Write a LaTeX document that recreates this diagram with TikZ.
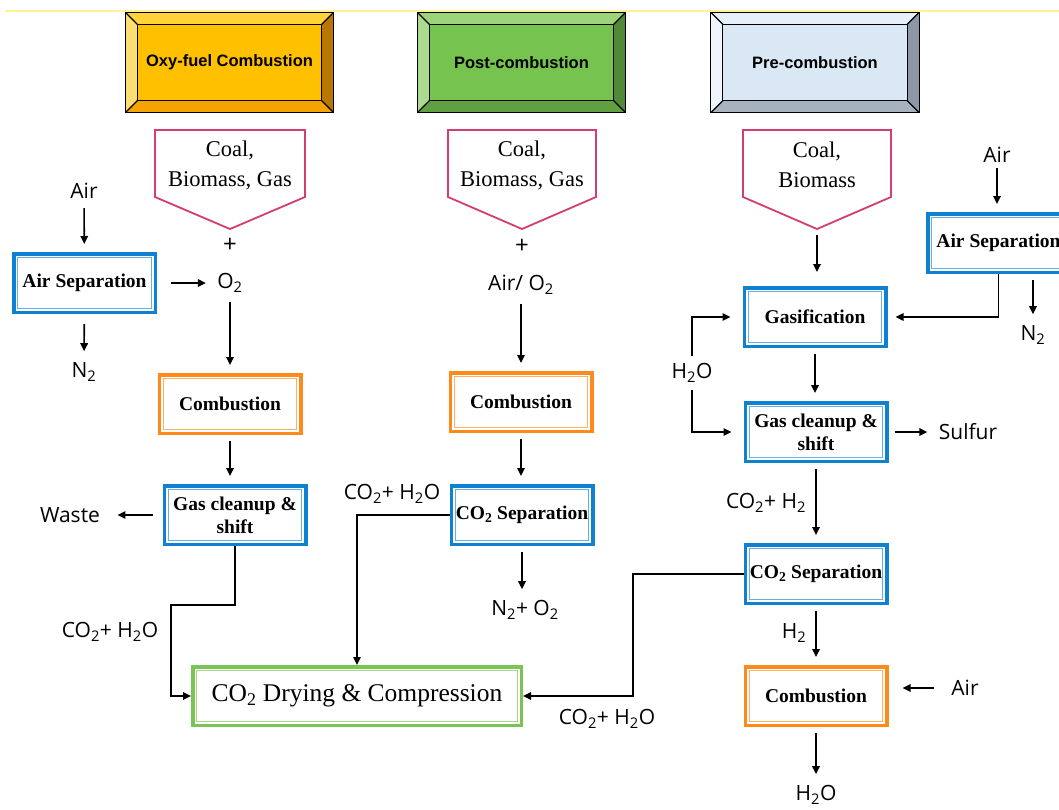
\documentclass[tikz,border=0pt]{standalone}
\usepackage{fontspec}
\setmainfont{Liberation Serif}
\newfontfamily\headfont{Liberation Sans}
\newfontfamily\lblfont{Open Sans}
\usetikzlibrary{arrows.meta, calc}

\definecolor{boxblue}{RGB}{16,128,208}
\definecolor{boxbluein}{RGB}{100,175,232}
\definecolor{boxorange}{RGB}{255,138,28}
\definecolor{boxorangein}{RGB}{255,178,100}
\definecolor{boxgreen}{RGB}{122,196,84}
\definecolor{boxgreenin}{RGB}{165,216,135}
\definecolor{fpink}{RGB}{210,62,112}
\definecolor{topline}{RGB}{255,243,150}
% header colours: face, top, left, right, bottom
\definecolor{oxyface}{RGB}{255,192,0}
\definecolor{oxytop}{RGB}{255,210,55}
\definecolor{oxyleft}{RGB}{255,222,115}
\definecolor{oxyright}{RGB}{185,118,0}
\definecolor{oxybot}{RGB}{245,163,0}
\definecolor{postface}{RGB}{118,195,80}
\definecolor{posttop}{RGB}{156,212,122}
\definecolor{postleft}{RGB}{172,218,142}
\definecolor{postright}{RGB}{80,138,55}
\definecolor{postbot}{RGB}{96,160,64}
\definecolor{preface}{RGB}{218,232,245}
\definecolor{pretop}{RGB}{230,240,250}
\definecolor{preleft}{RGB}{240,245,252}
\definecolor{preright}{RGB}{140,152,165}
\definecolor{prebot}{RGB}{166,178,190}

% bevelled title box: name, centre, text, face, top, left, right, bottom
\newcommand{\header}[8]{%
  \node[head, fill=#4] (#1) at (#2) {};
  \coordinate (#1-a) at ([shift={(12pt,-12pt)}]#1.north west);
  \coordinate (#1-b) at ([shift={(-12pt,-12pt)}]#1.north east);
  \coordinate (#1-c) at ([shift={(-12pt,12pt)}]#1.south east);
  \coordinate (#1-d) at ([shift={(12pt,12pt)}]#1.south west);
  \fill[#5] (#1.north west) -- (#1.north east) -- (#1-b) -- (#1-a) -- cycle;
  \fill[#6] (#1.north west) -- (#1-a) -- (#1-d) -- (#1.south west) -- cycle;
  \fill[#7] (#1.north east) -- (#1-b) -- (#1-c) -- (#1.south east) -- cycle;
  \fill[#8] (#1.south west) -- (#1-d) -- (#1-c) -- (#1.south east) -- cycle;
  \draw[bevel] (#1.north west) rectangle (#1.south east);
  \draw[bevel] (#1-a) rectangle (#1-c);
  \draw[bevel] (#1.north west) -- (#1-a) (#1.north east) -- (#1-b)
               (#1.south east) -- (#1-c) (#1.south west) -- (#1-d);
  \node[headtxt] (#1-t) at (#1) {#3};
}

\begin{document}
\begin{tikzpicture}[x=1pt, y=-1pt,
  head/.style={draw=black, line width=1.2pt, minimum width=207pt,
               minimum height=99pt, inner sep=0pt},
  bevel/.style={black, line width=1.1pt},
  headtxt/.style={font=\headfont\bfseries\fontsize{16.5}{19}\selectfont},
  feed/.style={font=\fontsize{22.5}{30}\selectfont, align=center},
  feedline/.style={draw=fpink, line width=1.8pt, fill=white, line join=miter},
  proc/.style={draw=#1, line width=3.5pt, fill=white, minimum width=141.5pt,
               minimum height=58.5pt, align=center, inner sep=2pt,
               font=\bfseries\fontsize{19.5}{23}\selectfont,
               path picture={\draw[#1in, line width=1.3pt]
                 ([shift={(4pt,-4pt)}]path picture bounding box.north west) rectangle
                 ([shift={(-4pt,4pt)}]path picture bounding box.south east);}},
  dry/.style={proc=boxgreen, minimum width=328.5pt,
              font=\fontsize{25.5}{28}\selectfont},
  lbl/.style={font=\lblfont\fontsize{21}{25}\selectfont},
  arr/.style={-{Triangle[length=8pt,width=7.5pt]}, line width=1.6pt,
              shorten <=6pt, shorten >=8pt},
  elb/.style={-{Triangle[length=8pt,width=7.5pt]}, line width=1.6pt}
]
\useasboundingbox (0,0) rectangle (1059,809);
\clip (0,0) rectangle (1059,809);
\fill[white] (0,0) rectangle (1059,809);
\draw[topline, line width=2pt] (5,11) -- (1059,11);

% ── titles ──────────────────────────────────────────────
\header{oxy}{229.5,62.5}{Oxy-fuel Combustion}{oxyface}{oxytop}{oxyleft}{oxyright}{oxybot}
\header{post}{521.5,62.5}{Post-combustion}{postface}{posttop}{postleft}{postright}{postbot}
\header{pre}{815,62.5}{Pre-combustion}{preface}{pretop}{preleft}{preright}{prebot}

% ── fuels ───────────────────────────────────────────────
\draw[feedline] (155,130) -- (305,130) -- (305,197) -- (230,229) -- (155,197) -- cycle;
\draw[feedline] (448,130) -- (596,130) -- (596,197) -- (522,229) -- (448,197) -- cycle;
\draw[feedline] (743,130) -- (891,130) -- (891,197) -- (817,229) -- (743,197) -- cycle;
\node[feed] (fuel1) at (230,165) {Coal,\\Biomass, Gas};
\node[feed] (fuel2) at (522,165) {Coal,\\Biomass, Gas};
\node[feed] (fuel3) at (817,165) {Coal,\\Biomass};
\coordinate (tip3) at (817,229);

% ── Oxy-fuel ────────────────────────────────────────────
\node[lbl] (air1) at (84,191) {Air};
\node[proc=boxblue] (asep1) at (84.5,283) {Air Separation};
\node[lbl] (n21) at (84,372) {N\textsubscript{2}};
\node[lbl, font=\lblfont\fontsize{24}{25}\selectfont] (plus1) at (230,245) {+};
\node[lbl] (o21) at (230,283) {O\textsubscript{2}};
\node[proc=boxorange] (comb1) at (230,404) {Combustion};
\node[proc=boxblue] (gcs1) at (235,515) {Gas cleanup \&\\shift};
\node[lbl] (waste) at (70,515) {Waste};
\node[lbl] (cw1) at (110,632) {CO\textsubscript{2}+ H\textsubscript{2}O};
\node[dry] (dry) at (357,696) {CO\textsubscript{2} Drying \& Compression};
\coordinate (bend1) at (171,605);

\draw[arr] (air1) -- (asep1);
\draw[arr, shorten <=10pt] (asep1) -- (n21);
\draw[arr, shorten <=14pt] (asep1) -- (o21);
\draw[arr] (o21) -- (comb1);
\draw[arr] (comb1) -- (comb1 |- gcs1.north);
\draw[arr, shorten <=10pt, shorten >=14pt] (gcs1) -- (waste);
\draw[elb] (gcs1.south) |- (bend1) |- (dry.west);

% ── Post-combustion ─────────────────────────────────────
\node[lbl, font=\lblfont\fontsize{24}{25}\selectfont] (plus2) at (522,246) {+};
\node[lbl] (airo2) at (521,285) {Air/ O\textsubscript{2}};
\node[proc=boxorange] (comb2) at (521,402) {Combustion};
\node[proc=boxblue] (csep2) at (522,515) {CO\textsubscript{2} Separation};
\node[lbl] (n2o2) at (525,610) {N\textsubscript{2}+ O\textsubscript{2}};
\node[lbl] (cw2) at (392,494) {CO\textsubscript{2}+ H\textsubscript{2}O};

\draw[arr] (airo2) -- (airo2 |- comb2.north);
\draw[arr] (comb2) -- (comb2 |- csep2.north);
\draw[arr] (csep2) -- (csep2 |- n2o2.north);
\draw[elb] (csep2.west) -| (dry.north);

% ── Pre-combustion ──────────────────────────────────────
\node[proc=boxblue] (gasif) at (815,317) {Gasification};
\node[lbl] (air3) at (997,155) {Air};
\node[proc=boxblue] (asep3) at (998.5,243) {Air Separation};
\node[lbl] (n23) at (1033,335) {N\textsubscript{2}};
\node[lbl] (h2o3) at (692,373) {H\textsubscript{2}O};
\node[proc=boxblue] (gcs3) at (816,432) {Gas cleanup \&\\shift};
\node[lbl] (sulfur) at (968,432) {Sulfur};
\node[lbl] (co2h2) at (766,503) {CO\textsubscript{2}+ H\textsubscript{2}};
\node[proc=boxblue] (csep3) at (816,574) {CO\textsubscript{2} Separation};
\node[lbl] (h23) at (794,633) {H\textsubscript{2}};
\node[proc=boxorange] (comb3) at (816,696) {Combustion};
\node[lbl] (air4) at (965,688) {Air};
\node[lbl] (h2o4) at (816,795) {H\textsubscript{2}O};
\node[lbl] (cw3) at (607,719) {CO\textsubscript{2}+ H\textsubscript{2}O};
\coordinate (bend3) at (633,574);

\draw[arr, shorten >=14pt] (tip3) -- (tip3 |- gasif.north);
\draw[arr, shorten <=2pt] (air3) -- (air3 |- asep3.north);
\draw[arr] (asep3.south -| n23) -- (n23);
\draw[elb, shorten >=8pt] (asep3.south) |- (gasif.east);
\draw[elb, shorten <=4pt, shorten >=12pt] (h2o3.north) |- (gasif.west);
\draw[elb, shorten <=4pt, shorten >=12pt] (h2o3.south) |- (gcs3.west);
\draw[arr] (gasif) -- (gasif |- gcs3.north);
\draw[arr] (gcs3) -- (sulfur);
\draw[arr] (gcs3) -- (gcs3 |- csep3.north);
\draw[arr] (csep3) -- (comb3);
\draw[arr, shorten <=14pt, shorten >=14pt] (air4.west) -- (air4.west -| comb3.east);
\draw[arr] (comb3) -- (h2o4);
\draw[elb] (csep3.west) -- (bend3) |- (dry.east);

\end{tikzpicture}
\end{document}
